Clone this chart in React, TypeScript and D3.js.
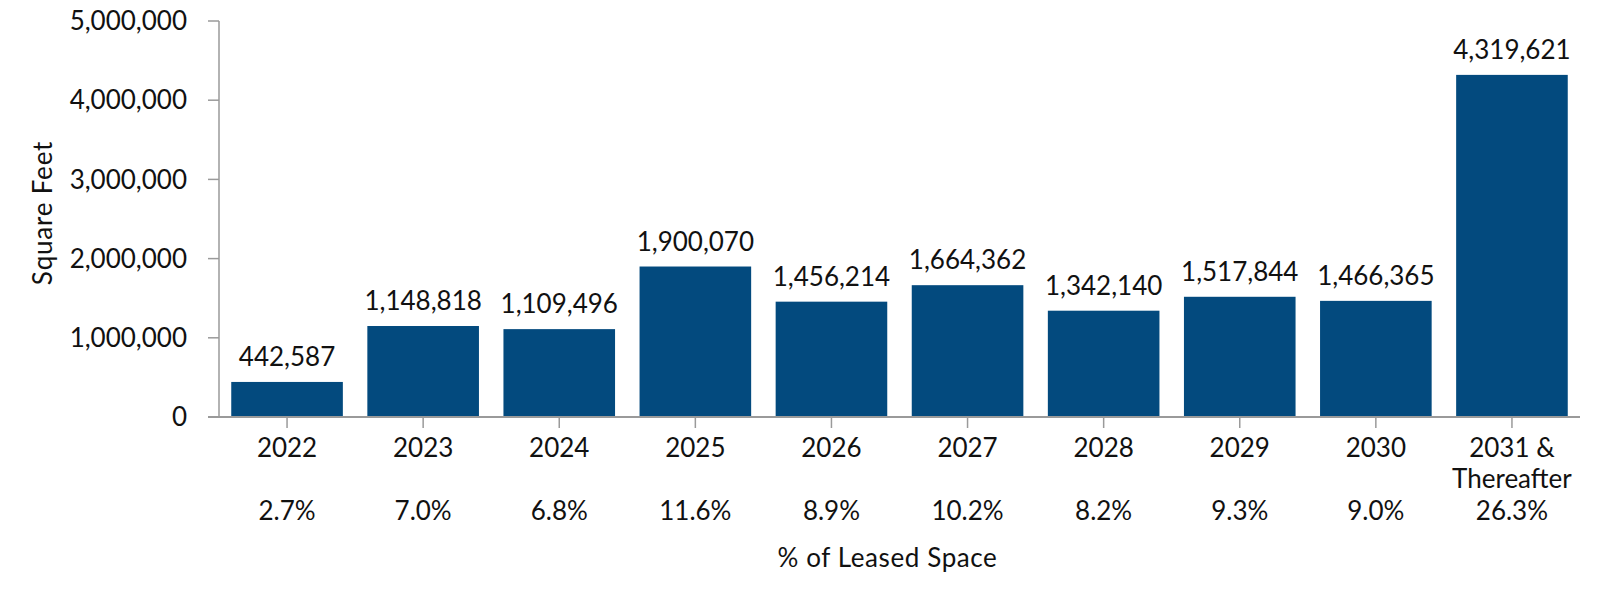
import React from "react";
import * as d3 from "d3";

const categories = ["2022", "2023", "2024", "2025", "2026", "2027", "2028", "2029", "2030", "2031 &\nThereafter"];
const squareFeet = [442587, 1148818, 1109496, 1900070, 1456214, 1664362, 1342140, 1517844, 1466365, 4319621];
const pctLeased = ["2.7%", "7.0%", "6.8%", "11.6%", "8.9%", "10.2%", "8.2%", "9.3%", "9.0%", "26.3%"];
const yTicks = [0, 1000000, 2000000, 3000000, 4000000, 5000000];

const W = 1600;
const H = 590;
const left = 219;
const right = 1580;
const top = 21;
const bottom = 417;
const FONT = "Lato, 'Noto Sans', sans-serif";
const FS = 26;
const BAR = "#034a7e";
const AXIS = "#9a9a9a";

export default function App() {
  const x = d3.scaleBand<string>().domain(categories).range([left, right]).paddingInner(0.18).paddingOuter(0.09);
  const y = d3.scaleLinear().domain([0, 5000000]).range([bottom, top]);
  const fmt = d3.format(",");
  return (
    <svg width={W} height={H} style={{ position: "absolute", left: 0, top: 0 }} fontFamily={FONT}>
      <rect width={W} height={H} fill="#fff" />
      {categories.map((c, i) => (
        <g key={c}>
          <rect x={x(c)} y={y(squareFeet[i])} width={x.bandwidth()} height={y(0) - y(squareFeet[i])} fill={BAR} />
          <text x={x(c)! + x.bandwidth() / 2} y={y(squareFeet[i]) - 16} textAnchor="middle" fontSize={FS} fill="#111">
            {fmt(squareFeet[i])}
          </text>
        </g>
      ))}
      <line x1={left} x2={left} y1={top} y2={bottom} stroke={AXIS} strokeWidth={1.5} />
      {yTicks.map((t) => (
        <g key={t}>
          <line x1={left - 11} x2={left} y1={y(t)} y2={y(t)} stroke={AXIS} strokeWidth={1.5} />
          <text x={left - 32} y={y(t)} dy="0.35em" textAnchor="end" fontSize={FS} fill="#111">
            {fmt(t)}
          </text>
        </g>
      ))}
      <line x1={left - 11} x2={right} y1={bottom} y2={bottom} stroke={AXIS} strokeWidth={2} />
      {categories.map((c, i) => {
        const cx = x(c)! + x.bandwidth() / 2;
        const lines = c.split("\n");
        return (
          <g key={"l" + c}>
            <line x1={cx} x2={cx} y1={bottom} y2={bottom + 11} stroke={AXIS} strokeWidth={1.5} />
            {lines.map((ln, j) => (
              <text key={j} x={cx} y={457 + j * 31} textAnchor="middle" fontSize={FS} fill="#111">
                {ln}
              </text>
            ))}
            <text x={cx} y={520} textAnchor="middle" fontSize={FS} fill="#111">
              {pctLeased[i]}
            </text>
          </g>
        );
      })}
      <text x={(left + right) / 2 - 12} y={567} textAnchor="middle" fontSize={FS} fill="#111" letterSpacing={0.6}>
        % of Leased Space
      </text>
      <text transform={`translate(52, ${(top + bottom) / 2 - 6}) rotate(-90)`} textAnchor="middle" fontSize={FS} fill="#111" letterSpacing={0.8}>
        Square Feet
      </text>
    </svg>
  );
}
